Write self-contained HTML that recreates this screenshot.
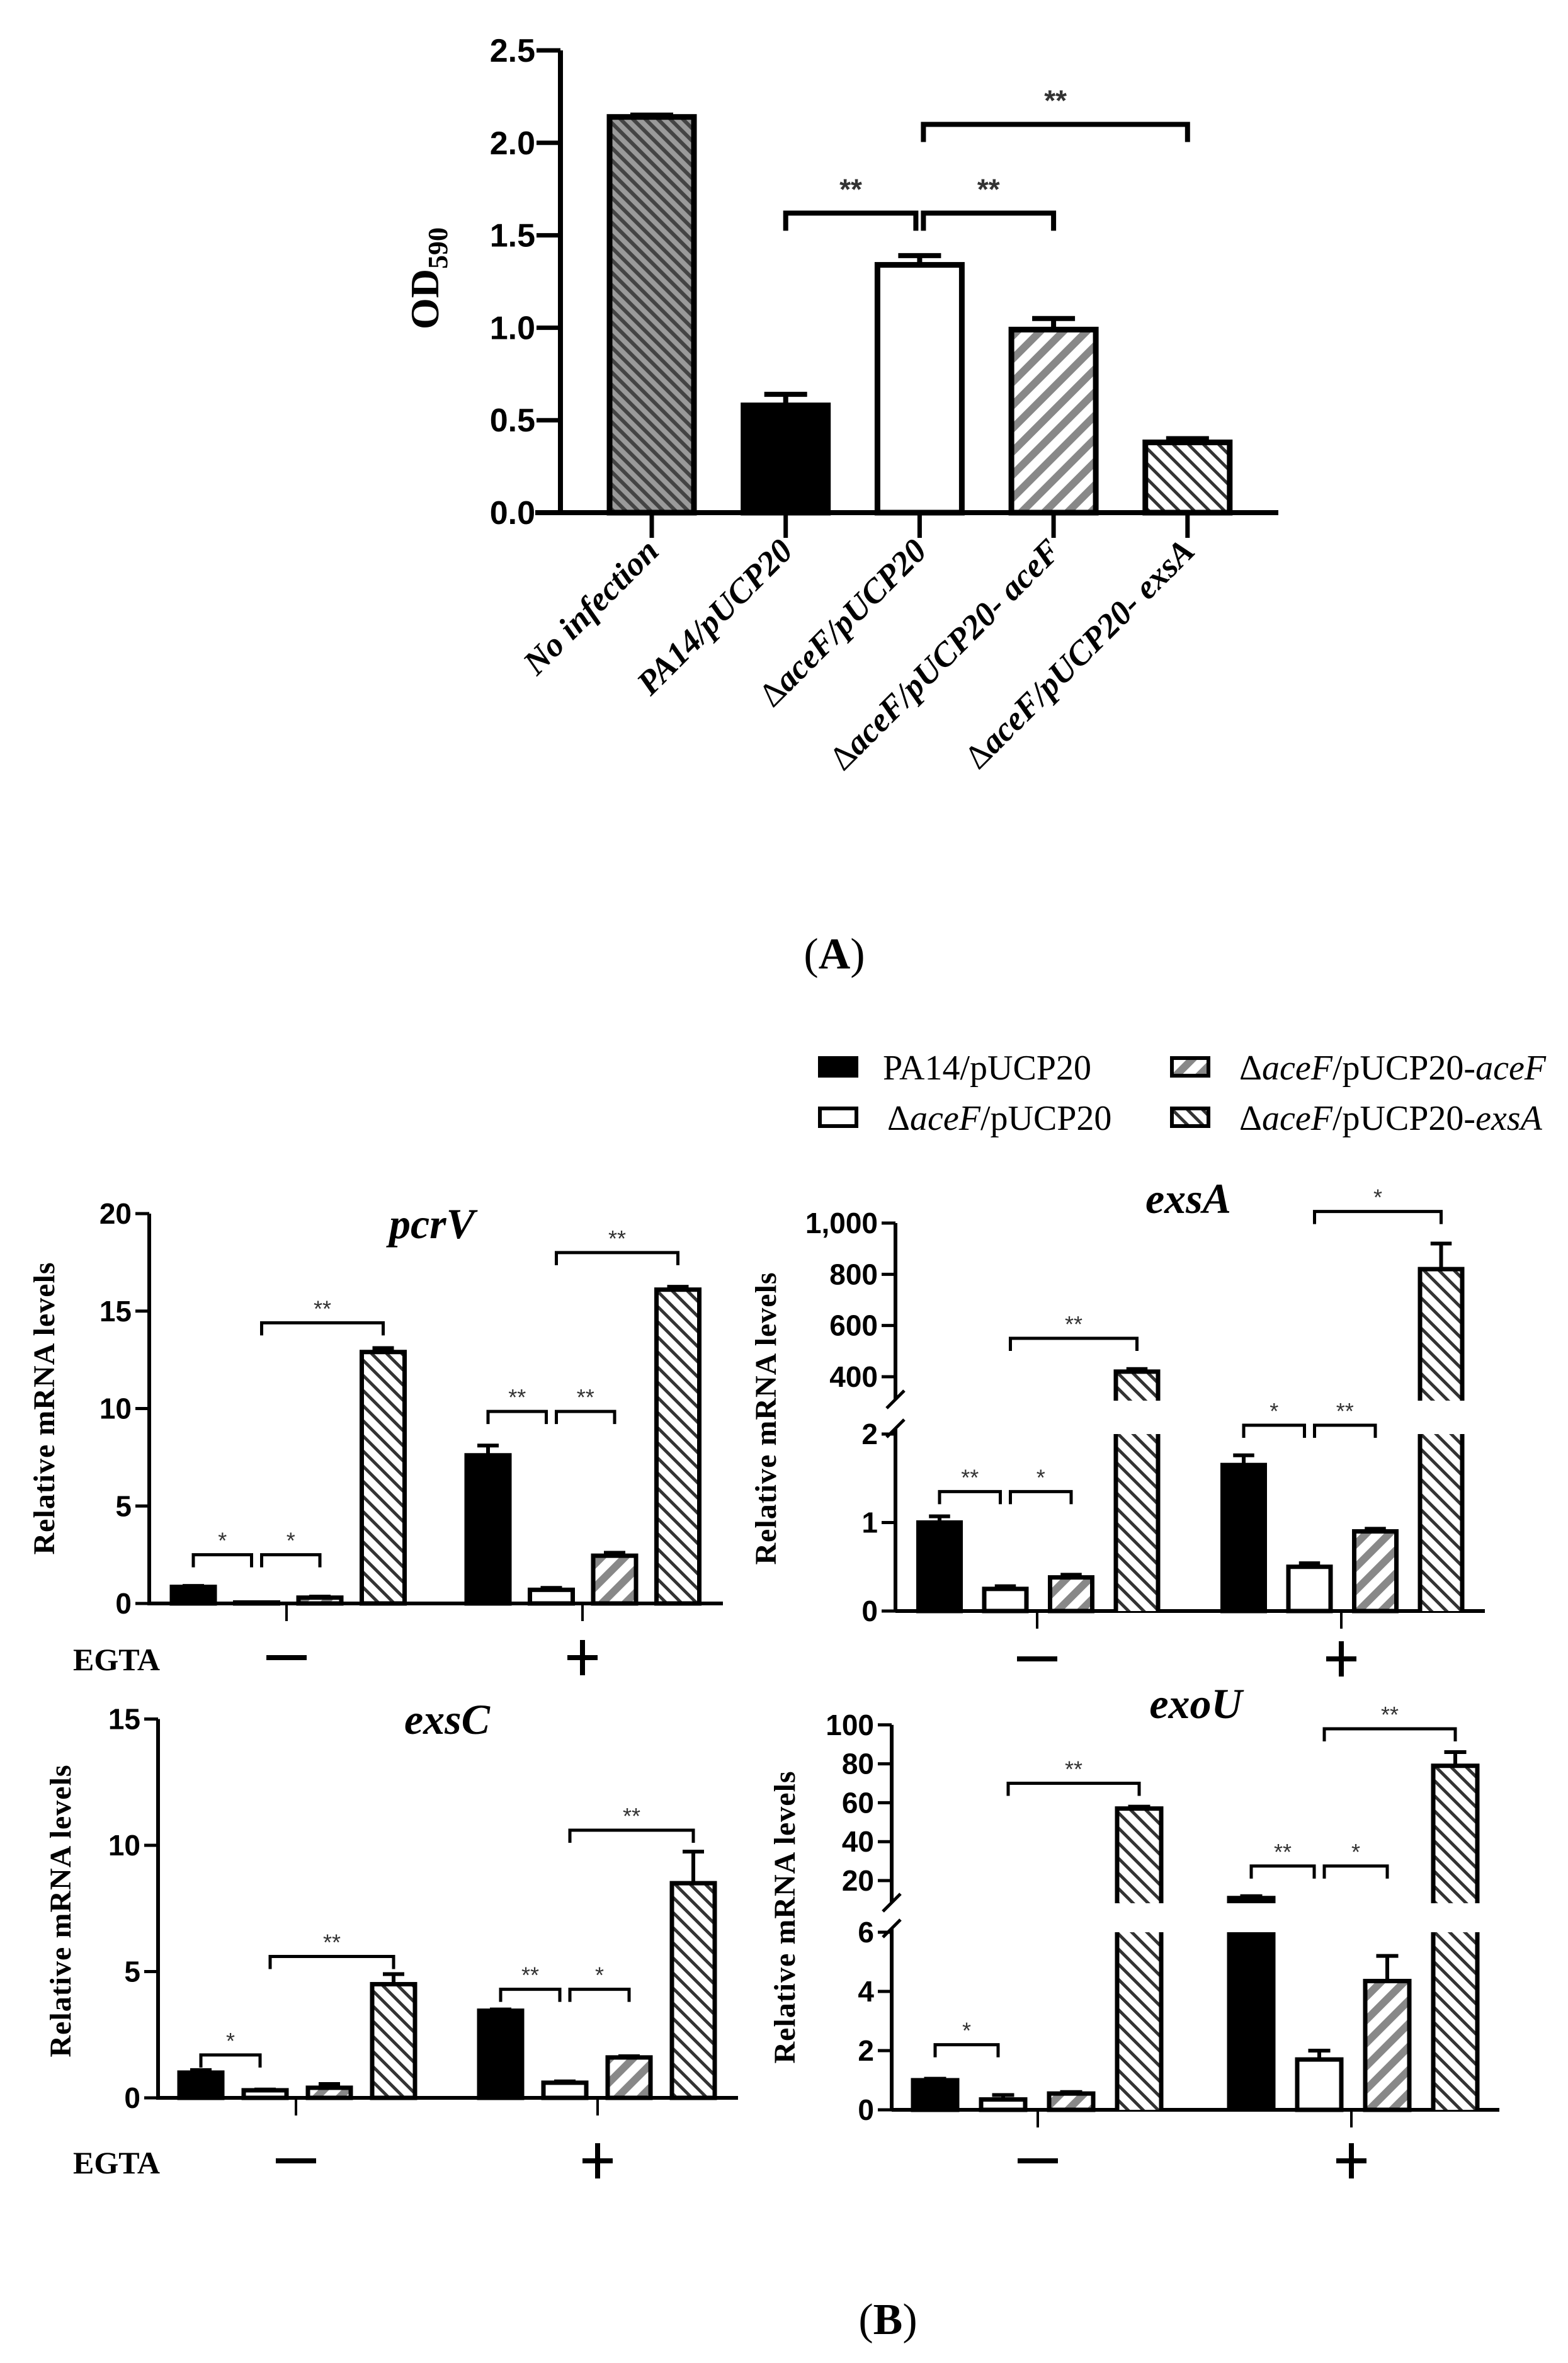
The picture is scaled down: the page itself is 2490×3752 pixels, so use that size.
<!DOCTYPE html>
<html><head><meta charset="utf-8"><title>Figure</title>
<style>html,body{margin:0;padding:0;background:#fff}svg{display:block}</style></head>
<body>
<svg id="fig" xmlns="http://www.w3.org/2000/svg" width="2490" height="3752" viewBox="0 0 2490 3752">
<defs>
<pattern id="patNone" patternUnits="userSpaceOnUse" width="14" height="14" patternTransform="rotate(-45)"><rect width="14" height="14" fill="#9a9a9a"/><rect width="6" height="14" fill="#444"/></pattern>
<pattern id="patAce" patternUnits="userSpaceOnUse" width="26" height="26" patternTransform="rotate(45)"><rect width="26" height="26" fill="#fff"/><rect width="12" height="26" fill="#888"/></pattern>
<pattern id="patExs" patternUnits="userSpaceOnUse" width="17" height="17" patternTransform="rotate(-45)"><rect width="17" height="17" fill="#fff"/><rect width="5" height="17" fill="#333"/></pattern>
</defs>
<g id="root"></g>
</svg>
<script>
// ===== Chart A data =====
const aCategories = ["No infection","PA14/pUCP20","ΔaceF/pUCP20","ΔaceF/pUCP20- aceF","ΔaceF/pUCP20- exsA"];
const aValues = [2.14, 0.58, 1.34, 0.99, 0.38];
const aErrors = [0.01, 0.06, 0.05, 0.06, 0.02];
const aTicks = [0, 0.5, 1.0, 1.5, 2.0, 2.5];
const aTickLabels = ["0.0","0.5","1.0","1.5","2.0","2.5"];
const aBrackets = [[1,2,1.62,"**"],[2,3,1.62,"**"],[2,4,2.1,"**"]];
// ===== Panel B data =====
const legendLabels = ["PA14/pUCP20","ΔaceF/pUCP20","ΔaceF/pUCP20-aceF","ΔaceF/pUCP20-exsA"];
const pcrvValues = [0.85, 0.05, 0.3, 12.9, 7.6, 0.7, 2.45, 16.1];
const pcrvErrors = [0.05, 0.0, 0.05, 0.2, 0.5, 0.1, 0.15, 0.15];
const pcrvTicks = [0, 5, 10, 15, 20];
const pcrvBrackets = [[0,1,2.5,"*"],[1,2,2.5,"*"],[1,3,14.4,"**"],[4,5,9.85,"**"],[5,6,9.85,"**"],[5,7,18.0,"**"]];
const exsaValues = [1.0, 0.25, 0.38, 420, 1.65, 0.5, 0.9, 820];
const exsaErrors = [0.07, 0.03, 0.03, 10, 0.11, 0.04, 0.03, 100];
const exsaTicksLow = [0, 1, 2];
const exsaTicksHigh = [400, 600, 800, 1000];
const exsaTickLabelsHigh = ["400","600","800","1,000"];
const exsaBrackets = [[0,1,1.35,"**"],[1,2,1.35,"*"],[1,3,550,"**"],[4,5,2.1,"*"],[5,6,2.1,"**"],[5,7,1045,"*"]];
const exscValues = [1.0, 0.3, 0.4, 4.5, 3.45, 0.6, 1.6, 8.5];
const exscErrors = [0.1, 0.03, 0.15, 0.4, 0.05, 0.05, 0.05, 1.25];
const exscTicks = [0, 5, 10, 15];
const exscBrackets = [[0,1,1.7,"*"],[1,3,5.6,"**"],[4,5,4.3,"**"],[5,6,4.3,"*"],[5,7,10.6,"**"]];
const exouValues = [1.0, 0.35, 0.55, 57, 11, 1.7, 4.35, 79];
const exouErrors = [0.05, 0.15, 0.05, 1, 1, 0.3, 0.85, 7];
const exouTicksLow = [0, 2, 4, 6];
const exouTicksHigh = [20, 40, 60, 80, 100];
const exouBrackets = [[0,1,2.2,"*"],[1,3,70,"**"],[4,5,27.5,"**"],[5,6,27.5,"*"],[5,7,98,"**"]];

const NS = "http://www.w3.org/2000/svg";
const root = document.getElementById("root");
function mk(tag, attrs, parent, text){
  const e = document.createElementNS(NS, tag);
  for (const k in attrs) e.setAttribute(k, attrs[k]);
  if (text !== undefined) e.textContent = text;
  (parent || root).appendChild(e);
  return e;
}
const fills = ["#000","#fff","url(#patAce)","url(#patExs)"];
const SERIF = "'Liberation Serif', serif";
const SANS = "'Liberation Sans', sans-serif";

// ===== Chart A =====
(function(){
  const g = mk("g", {});
  
  
  const ax = 890, y0 = 814, ppu = 293.6;
  const ya = v => y0 - v * ppu;
  const xa = i => 1035 + i * 212.7;
  const bw = 134;
  const axis = mk("path", {d:`M${ax} ${ya(2.5)} V${y0} M${ax-40} ${y0} H2030`, stroke:"#000","stroke-width":8, fill:"none"}, g);
  
  
  aTicks.forEach((t, i) => {
    const tk = mk("line", {x1:ax-38, x2:ax, y1:ya(t), y2:ya(t), stroke:"#000","stroke-width":7}, g);
    
    
    const tl = mk("text", {x:850, y:ya(t)+18, "text-anchor":"end", "font-family":SANS, "font-weight":"bold", "font-size":52}, g, aTickLabels[i]);
    
    
  });
  const yt = mk("text", {transform:"translate(696 442) rotate(-90)", "text-anchor":"middle", "font-family":SERIF, "font-weight":"bold", "font-size":64}, g);
  
  
  mk("tspan", {}, yt, "OD");
  mk("tspan", {"font-size":44, dy:14}, yt, "590");
  const aFills = ["url(#patNone)","#000","#fff","url(#patAce)","url(#patExs)"];
  aValues.forEach((v, i) => {
    const cx = xa(i);
    const b = mk("rect", {x:cx-bw/2, y:ya(v), width:bw, height:y0-ya(v), fill:aFills[i], stroke:"#000","stroke-width":9}, g);
    
    
    const e = mk("path", {d:`M${cx} ${ya(v)} V${ya(v+aErrors[i])} M${cx-34} ${ya(v+aErrors[i])} H${cx+34}`, stroke:"#000","stroke-width":8, fill:"none"}, g);
    
    
    const tk = mk("line", {x1:cx, x2:cx, y1:y0, y2:y0+40, stroke:"#000","stroke-width":7}, g);
    
    
    const lab = aCategories[i];
    const t = mk("text", {transform:`translate(${cx+14} 878) rotate(-45)`, "text-anchor":"end", "font-family":SERIF, "font-weight":"bold", "font-style":"italic", "font-size":54}, g);
    
    
    if (lab.startsWith("Δ")) {
      const rest = lab.slice(5);
      mk("tspan", {"font-style":"normal","font-weight":"normal"}, t, "Δ");
      mk("tspan", {}, t, "aceF");
      const m = rest.match(/^(.*?- )(\w+)$/);
      if (m) { mk("tspan", {}, t, m[1]); mk("tspan", {}, t, m[2]); }
      else mk("tspan", {}, t, rest);
    } else t.textContent = lab;
  });
  aBrackets.forEach(br => {
    const x1 = xa(br[0]) + (br[0]===2?6:0), x2 = xa(br[1]) - (br[1]===2?6:0);
    const y = ya(br[2]);
    const p = mk("path", {d:`M${x1} ${y+28} V${y} H${x2} V${y+28}`, stroke:"#000","stroke-width":8, fill:"none"}, g);
    
    
    const s = mk("text", {x:(x1+x2)/2, y:y-22, "text-anchor":"middle", "font-family":SANS, "font-weight":"bold", "font-size":46, fill:"#333"}, g, br[3]);
    
    
  });
  const pa = mk("text", {x:1325, y:1538, "text-anchor":"middle", "font-family":SERIF, "font-size":70}, g);
  
  
  mk("tspan", {}, pa, "(");
  mk("tspan", {"font-weight":"bold"}, pa, "A");
  mk("tspan", {}, pa, ")");
})();

// ===== Legend =====
(function(){
  const g = mk("g", {});
  
  
  const pos = [[1299,1695],[1299,1775],[1858,1695],[1858,1775]];
  legendLabels.forEach((lab, i) => {
    const [x, y] = pos[i];
    const sw = mk("rect", {x:x+3, y:y-15, width:58, height:28, fill:fills[i], stroke:"#000","stroke-width":6}, g);
    
    
    const t = mk("text", {x:x+(i===0?103:110), y:y+19, "font-family":SERIF, "font-size":56}, g);
    
    
    if (i === 0) t.textContent = lab;
    else {
      mk("tspan", {}, t, "Δ");
      mk("tspan", {"font-style":"italic"}, t, "aceF");
      const rest = lab.slice(5);
      const m = rest.match(/^(\/pUCP20-)(\w+)$/);
      if (m) { mk("tspan", {}, t, m[1]); mk("tspan", {"font-style":"italic"}, t, m[2]); }
      else mk("tspan", {}, t, rest);
    }
  });
})();

// ===== Panel B generic =====
function panel(cfg){
  const g = mk("g", {});
  
  
  const y = cfg.y;
  const bx = i => cfg.start + Math.floor(i/4) * cfg.groupStep + (i%4) * cfg.step;
  const hw = cfg.bw / 2;
  let d;
  if (cfg.broken) {
    d = `M${cfg.ax} ${y(cfg.axTop)} V${cfg.upperCutAxis} M${cfg.ax} ${cfg.lowerCutAxis} V${cfg.y0} M${cfg.ax} ${cfg.y0} H${cfg.axEnd}`;
    const sl = mk("path", {d:`M${cfg.ax-14} ${cfg.upperCutAxis+14} L${cfg.ax+14} ${cfg.upperCutAxis-14} M${cfg.ax-14} ${cfg.lowerCutAxis+14} L${cfg.ax+14} ${cfg.lowerCutAxis-14}`, stroke:"#000","stroke-width":5, fill:"none"}, g);
    
    
  } else {
    d = `M${cfg.ax} ${y(cfg.axTop)} V${cfg.y0} H${cfg.axEnd}`;
  }
  const axp = mk("path", {d, stroke:"#000","stroke-width":6, fill:"none"}, g);
  
  
  cfg.ticks.forEach((t, i) => {
    const tk = mk("line", {x1:cfg.ax-22, x2:cfg.ax, y1:y(t), y2:y(t), stroke:"#000","stroke-width":5}, g);
    
    
    const tl = mk("text", {x:cfg.ax-28, y:y(t)+16, "text-anchor":"end", "font-family":SANS, "font-weight":"bold", "font-size":46}, g, cfg.tickLabels ? cfg.tickLabels[i] : String(t));
    
    
  });
  const ylab = mk("text", {transform:`translate(${cfg.ylx} ${cfg.yly}) rotate(-90)`, "text-anchor":"middle", "font-family":SERIF, "font-weight":"bold", "font-size":48, "letter-spacing":"1"}, g, "Relative mRNA levels");
  
  
  const title = mk("text", {x:cfg.titleX, y:cfg.titleY, "text-anchor":"middle", "font-family":SERIF, "font-style":"italic", "font-weight":"bold", "font-size":68}, g, cfg.title);
  
  
  cfg.values.forEach((v, i) => {
    const cx = bx(i), f = fills[i%4];
    const top = y(v);
    if (cfg.broken && v > cfg.threshold) {
      const r1 = mk("rect", {x:cx-hw, y:cfg.lowerCutBar, width:cfg.bw, height:cfg.y0-cfg.lowerCutBar, fill:f}, g);
      
      
      const r2 = mk("rect", {x:cx-hw, y:top, width:cfg.bw, height:cfg.upperCutBar-top, fill:f}, g);
      
      
      const o = mk("path", {d:`M${cx-hw} ${cfg.y0} V${cfg.lowerCutBar} M${cx+hw} ${cfg.y0} V${cfg.lowerCutBar} M${cx-hw} ${cfg.upperCutBar} V${top} H${cx+hw} V${cfg.upperCutBar}`, stroke:"#000","stroke-width":7, fill:"none"}, g);
      
      
    } else {
      const r = mk("rect", {x:cx-hw, y:top, width:cfg.bw, height:Math.max(cfg.y0-top,1), fill:f, stroke:"#000","stroke-width":7}, g);
      
      
    }
    const e = cfg.errors[i];
    if (e > 0) {
      const ye = y(v + e);
      const eb = mk("path", {d:`M${cx} ${top} V${ye} M${cx-hw*0.5} ${ye} H${cx+hw*0.5}`, stroke:"#000","stroke-width":6, fill:"none"}, g);
      
      
    }
  });
  cfg.xTicks.forEach(xt => {
    const tk = mk("line", {x1:xt, x2:xt, y1:cfg.y0, y2:cfg.y0+28, stroke:"#000","stroke-width":4}, g);
    
    
  });
  cfg.brackets.forEach(br => {
    const x1 = bx(br[0]) + (br[0]%4===1 ? 8 : 0), x2 = bx(br[1]) - (br[1]%4===1 ? 8 : 0);
    const yy = y(br[2]);
    const p = mk("path", {d:`M${x1} ${yy+20} V${yy} H${x2} V${yy+20}`, stroke:"#000","stroke-width":5, fill:"none"}, g);
    
    
    const s = mk("text", {x:(x1+x2)/2, y:yy-10, "text-anchor":"middle", "font-family":SANS, "font-size":36, fill:"#333"}, g, br[3]);
    
    
  });
  const rowY = cfg.rowY;
  if (cfg.egta) {
    const eg = mk("text", {x:cfg.egta, y:rowY+20, "font-family":SERIF, "font-weight":"bold", "font-size":50}, g, "EGTA");
    
    
  }
  const m = mk("line", {x1:cfg.xTicks[0]-32, x2:cfg.xTicks[0]+32, y1:rowY, y2:rowY, stroke:"#000","stroke-width":8}, g);
  
  
  const pl = mk("path", {d:`M${cfg.xTicks[1]-24} ${rowY} H${cfg.xTicks[1]+24} M${cfg.xTicks[1]} ${rowY-28} V${rowY+28}`, stroke:"#000","stroke-width":8, fill:"none"}, g);
  
  
}

panel({name:"pcrv-chart", title:"pcrV", titleX:686, titleY:1966,
  values:pcrvValues, errors:pcrvErrors, brackets:pcrvBrackets, ticks:pcrvTicks,
  y: v => 2546 - v*30.95, y0:2546, ax:237, axEnd:1148, axTop:20,
  start:307, step:100.5, groupStep:468, bw:68, xTicks:[455,925],
  ylx:86, yly:2236, rowY:2632, egta:116});

panel({name:"exsa-chart", title:"exsA", titleX:1887, titleY:1926,
  values:exsaValues, errors:exsaErrors, brackets:exsaBrackets,
  ticks:exsaTicksLow.concat(exsaTicksHigh), tickLabels:exsaTicksLow.map(String).concat(exsaTickLabelsHigh),
  y: v => v <= 50 ? 2558 - v*140.5 : 2186 - (v-400)*0.4067, y0:2558, ax:1422, axEnd:2358, axTop:1000,
  broken:true, threshold:50, upperCutAxis:2222, lowerCutAxis:2268, upperCutBar:2224, lowerCutBar:2277,
  start:1492, step:104.5, groupStep:483, bw:67, xTicks:[1647,2130],
  ylx:1232, yly:2252, rowY:2634});

panel({name:"exsc-chart", title:"exsC", titleX:710, titleY:2753,
  values:exscValues, errors:exscErrors, brackets:exscBrackets, ticks:exscTicks,
  y: v => 3331 - v*40.1, y0:3331, ax:251, axEnd:1172, axTop:15,
  start:319, step:102, groupStep:476, bw:68, xTicks:[470,949],
  ylx:112, yly:3034, rowY:3431, egta:116});

panel({name:"exou-chart", title:"exoU", titleX:1899, titleY:2728,
  values:exouValues, errors:exouErrors, brackets:exouBrackets,
  ticks:exouTicksLow.concat(exouTicksHigh),
  y: v => v <= 7 ? 3350 - v*47 : 2986 - (v-20)*3.09, y0:3350, ax:1416, axEnd:2381, axTop:100,
  broken:true, threshold:7, upperCutAxis:3021, lowerCutAxis:3062, upperCutBar:3022, lowerCutBar:3068,
  start:1485, step:108, groupStep:502, bw:70, xTicks:[1648,2146],
  ylx:1262, yly:3044, rowY:3431});

const pb = mk("text", {x:1410, y:3706, "text-anchor":"middle", "font-family":SERIF, "font-size":70});


mk("tspan", {}, pb, "(");
mk("tspan", {"font-weight":"bold"}, pb, "B");
mk("tspan", {}, pb, ")");
</script>
</body></html>
